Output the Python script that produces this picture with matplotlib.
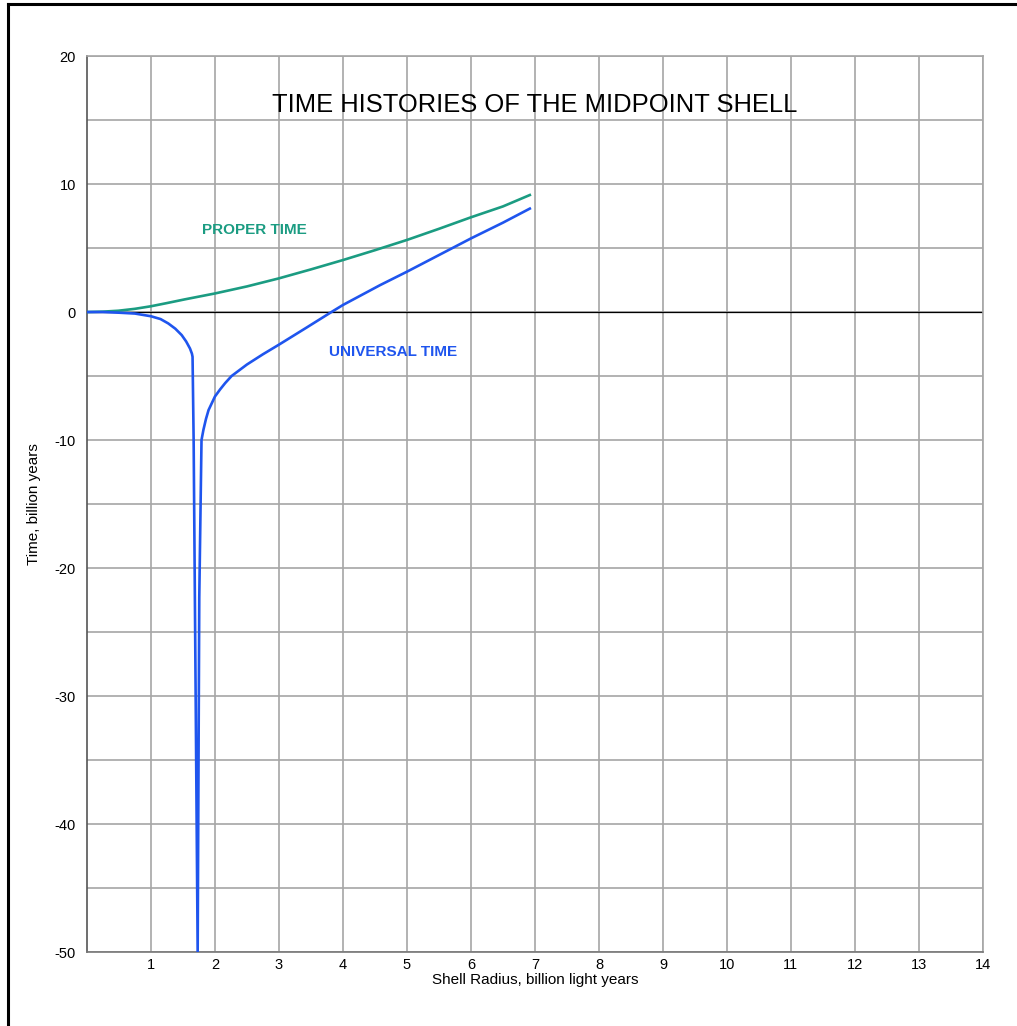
import matplotlib as mpl
mpl.use("agg")
import matplotlib.pyplot as plt
from matplotlib.ticker import MultipleLocator
from matplotlib.lines import Line2D

plt.rcParams['font.family'] = ['Liberation Sans', 'DejaVu Sans']
plt.rcParams['axes.unicode_minus'] = False

# proper time of the midpoint shell
proper_r = [0, 0.25, 0.49, 0.75, 1.0, 1.25, 1.53, 2.0, 2.5, 3.0, 3.5, 4.0, 4.5, 5.0, 5.5, 6.0, 6.5, 6.92]
proper_t = [0, 0.03, 0.1, 0.25, 0.45, 0.7, 0.99, 1.45, 2.0, 2.63, 3.33, 4.06, 4.83, 5.63, 6.5, 7.4, 8.25, 9.14]

# universal time: falls to -inf near r=1.73 then comes back up
univ_r = [0, 0.25, 0.49, 0.75, 1.0, 1.15, 1.27, 1.38, 1.48, 1.55, 1.61, 1.64, 1.65, 1.667, 1.73,
          1.755, 1.79, 1.82, 1.86, 1.9, 2.0, 2.08, 2.16, 2.26, 2.5, 2.75, 3.0, 3.43, 3.82, 4.0,
          4.58, 5.0, 5.5, 6.0, 6.5, 6.92]
univ_t = [0, 0.0, -0.05, -0.12, -0.33, -0.55, -0.89, -1.3, -1.8, -2.3, -2.85, -3.25, -3.5, -10, -50,
          -22.3, -10, -9.2, -8.35, -7.66, -6.6, -6.05, -5.55, -5.0, -4.1, -3.3, -2.55, -1.22, 0, 0.55,
          2.1, 3.15, 4.45, 5.75, 6.98, 8.08]

x_ticks = list(range(1, 15))
green = '#1b9c82'
blue = '#1f55ee'

fig = plt.figure(figsize=(10.17, 10.26), dpi=100)
ax = fig.add_axes([0.0855, 0.0721, 0.881, 0.8733])

ax.set_xlim(0, 14)
ax.set_ylim(-50, 20)
ax.set_xticks(x_ticks)
ax.yaxis.set_major_locator(MultipleLocator(10))
ax.yaxis.set_minor_locator(MultipleLocator(5))
ax.grid(True, which='both', color='#a6a6a6', lw=1.2)
ax.tick_params(which='both', length=0, labelsize=10.5)
ax.tick_params(axis='y', pad=8)
ax.tick_params(axis='x', pad=4)
for s in ax.spines.values():
    s.set_color('#a6a6a6')
    s.set_linewidth(1.2)
ax.spines['left'].set_color('#555555')
ax.spines['bottom'].set_color('#777777')

ax.axhline(0, color='black', lw=0.9, zorder=2)
ax.plot(proper_r, proper_t, color=green, lw=1.9, zorder=3, solid_joinstyle='round')
ax.plot(univ_r, univ_t, color=blue, lw=1.9, zorder=3, solid_joinstyle='round')

ax.text(7, 16.2, 'TIME HISTORIES OF THE MIDPOINT SHELL', ha='center', va='center', fontsize=18.4)
ax.text(2.61, 6.4, 'PROPER TIME', ha='center', va='center', fontsize=11, fontweight='bold', color=green)
ax.text(4.78, -3.15, 'UNIVERSAL TIME', ha='center', va='center', fontsize=11, fontweight='bold', color=blue)

ax.set_xlabel('Shell Radius, billion light years', fontsize=11, labelpad=1)
ax.set_ylabel('Time, billion years', fontsize=11, labelpad=10)

# frame around the figure (only left and top edges visible)
fig.add_artist(Line2D([0.008, 0.008], [0, 0.996], color='black', lw=2.2, transform=fig.transFigure))
fig.add_artist(Line2D([0.008, 1.0], [0.996, 0.996], color='black', lw=2.2, transform=fig.transFigure))

fig.savefig('out.png', dpi=100)
